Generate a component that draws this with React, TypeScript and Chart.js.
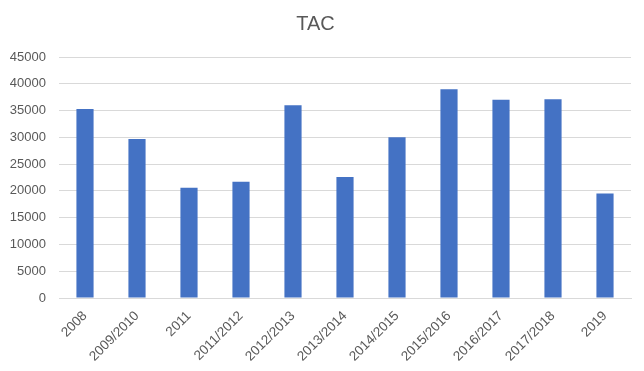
import React, { useEffect, useRef } from "react";
import { Chart, registerables } from "chart.js";

Chart.register(...registerables);

const categories = [
  "2008",
  "2009/2010",
  "2011",
  "2011/2012",
  "2012/2013",
  "2013/2014",
  "2014/2015",
  "2015/2016",
  "2016/2017",
  "2017/2018",
  "2019",
];
const tacValues = [35300, 29700, 20600, 21700, 36000, 22600, 30000, 39000, 37000, 37100, 19500];
const yMax = 45000;
const yStep = 5000;

export default function App() {
  const ref = useRef<HTMLCanvasElement | null>(null);
  useEffect(() => {
    if (!ref.current) return;
    const font = "'Liberation Sans', 'DejaVu Sans', sans-serif";
    const chart = new Chart(ref.current, {
      type: "bar",
      data: {
        labels: categories,
        datasets: [
          {
            label: "TAC",
            data: tacValues,
            backgroundColor: "#4472C4",
            categoryPercentage: 1,
            barPercentage: 0.33,
          },
        ],
      },
      options: {
        animation: false,
        responsive: false,
        maintainAspectRatio: false,
        layout: { padding: { left: 0, right: 13, top: 8, bottom: 0 } },
        plugins: {
          legend: { display: false },
          tooltip: { enabled: false },
          title: {
            display: true,
            text: "TAC",
            color: "#595959",
            font: { family: font, size: 20, weight: "normal" },
            padding: { top: 4, bottom: 21 },
          },
        },
        scales: {
          x: {
            grid: { display: false },
            border: { display: true, color: "#d9d9d9" },
            ticks: {
              color: "#595959",
              font: { family: font, size: 13.5 },
              minRotation: 45,
              maxRotation: 45,
              autoSkip: false,
              padding: 2,
            },
            afterFit: (s: any) => {
              s.height = 73;
            },
          },
          y: {
            min: 0,
            max: yMax,
            grid: { color: "#d9d9d9", drawTicks: false },
            border: { display: false },
            ticks: {
              stepSize: yStep,
              color: "#595959",
              font: { family: font, size: 13 },
              padding: 13,
              callback: (v: any) => String(v),
            },
            afterFit: (s: any) => {
              s.width = 59;
            },
          },
        },
      },
    });
    return () => chart.destroy();
  }, []);
  return (
    <div style={{ position: "fixed", left: 0, top: 0, width: 644, height: 371, background: "#fff" }}>
      <canvas ref={ref} width={644} height={371} style={{ width: 644, height: 371 }} />
    </div>
  );
}
